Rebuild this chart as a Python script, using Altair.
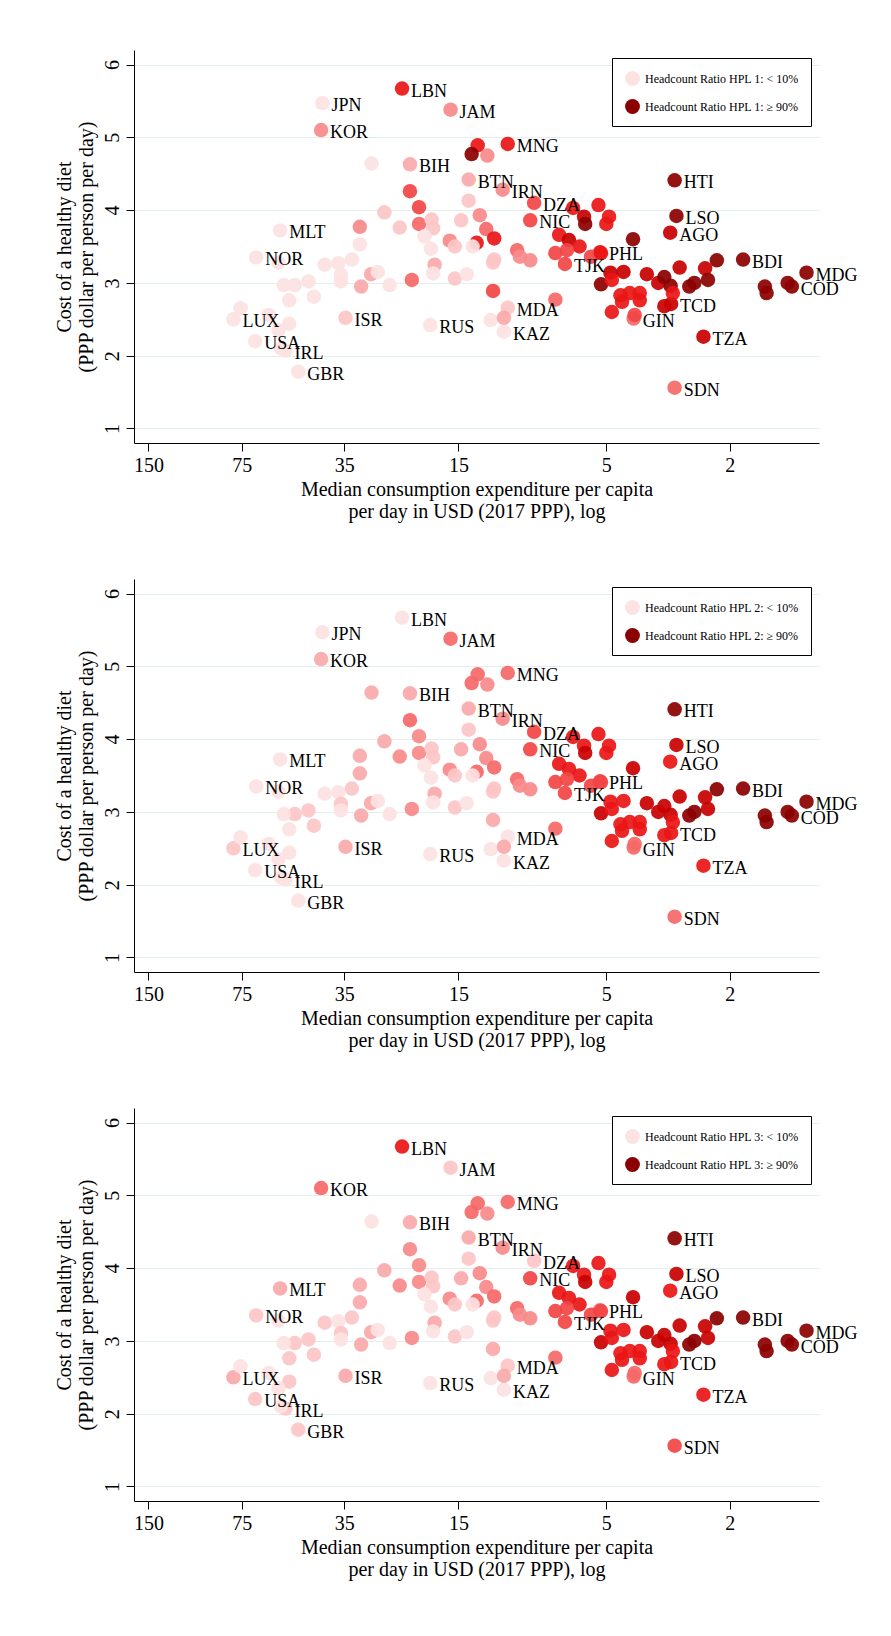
"""Cost of a healthy diet vs. median consumption expenditure, three HPL panels."""

import pandas as pd
import altair as alt

labelled = ["LBN", "JPN", "JAM", "KOR", "MNG", "BIH", "BTN", "IRN", "HTI", "DZA", "NIC", "LSO",
            "AGO", "MLT", "NOR", "PHL", "TJK", "BDI", "MDG", "COD", "TCD", "MDA", "GIN", "ISR",
            "LUX", "RUS", "KAZ", "USA", "TZA", "IRL", "GBR", "SDN"]

expenditure = [22.8, 41.2, 15.9, 41.6, 10.4, 21.5, 13.9, 10.8, 3.01, 8.55, 8.8, 2.97,
               3.11, 56.4, 67.4, 5.24, 6.8, 1.81, 1.13, 1.26, 3.09, 10.4, 4.08, 34.7,
               79.8, 18.5, 10.7, 67.9, 2.43, 54.2, 49.3, 3.01,
               28.6, 13.0, 13.6, 12.1, 21.5, 20.1, 26.0, 31.2, 23.2, 20.1, 18.3, 18.1,
               14.7, 13.9, 12.8, 12.2, 13.1, 11.5, 16.0, 15.4, 19.3, 18.4, 13.5, 31.2,
               33.1, 40.5, 36.6, 35.9, 35.9, 28.7, 27.3, 25.0, 21.2, 17.9, 18.1, 15.4,
               14.1, 11.6, 11.5, 30.9, 45.7, 50.6, 54.9, 52.7, 43.9, 57.1, 11.6, 9.7,
               9.5, 8.8, 75.7, 61.4, 52.7, 57.1, 56.0, 11.8, 10.7, 7.3, 6.4, 5.9,
               5.85, 5.3, 4.9, 5.0, 4.1, 7.1, 6.6, 6.1, 7.3, 6.7, 5.6, 5.2,
               4.85, 4.4, 3.7, 5.2, 4.8, 4.5, 4.2, 3.9, 4.45, 3.9, 4.8, 4.05,
               3.4, 3.25, 3.1, 2.9, 3.05, 3.25, 2.4, 2.35, 2.6, 2.7, 2.2, 1.54,
               1.52, 1.3]

cost = [5.67, 5.47, 5.38, 5.10, 4.91, 4.63, 4.42, 4.28, 4.41, 4.10, 3.86, 3.92,
        3.69, 3.72, 3.35, 3.42, 3.26, 3.32, 3.14, 2.95, 2.71, 2.66, 2.51, 2.52,
        2.50, 2.42, 2.33, 2.20, 2.26, 2.07, 1.78, 1.56,
        4.64, 4.89, 4.77, 4.75, 4.26, 4.04, 3.97, 3.77, 3.76, 3.81, 3.87, 3.75,
        3.86, 4.13, 3.93, 3.74, 3.55, 3.61, 3.58, 3.50, 3.64, 3.47, 3.50, 3.53,
        3.32, 3.25, 3.27, 3.11, 3.02, 3.12, 3.15, 2.97, 3.04, 3.25, 3.13, 3.06,
        3.12, 3.28, 3.32, 2.95, 3.02, 2.97, 2.97, 2.76, 2.81, 3.28, 2.89, 3.45,
        3.36, 3.31, 2.65, 2.56, 2.44, 2.35, 2.10, 2.49, 2.52, 2.77, 4.03, 3.91,
        3.81, 4.07, 3.91, 3.81, 3.60, 3.66, 3.59, 3.50, 3.41, 3.45, 3.36, 3.41,
        3.14, 3.15, 3.12, 2.98, 3.04, 2.83, 2.86, 2.86, 2.74, 2.76, 2.60, 2.56,
        3.00, 3.08, 2.96, 3.21, 2.86, 2.68, 3.20, 3.04, 3.00, 2.95, 3.31, 2.95,
        2.86, 3.00]

codes = labelled + [""] * (len(expenditure) - len(labelled))

# headcount ratio class (1 = < 10% ... 9 = >= 90%), one list per poverty line; 0 = missing
ratio_hpl1 = [7, 1, 4, 4, 7, 3, 3, 4, 9, 6, 6, 9, 8, 1, 1, 7, 6, 9, 9, 9, 8, 2, 5, 2,
              1, 1, 1, 1, 8, 1, 1, 5,
              1, 7, 9, 4, 6, 6, 2, 4, 2, 5, 2, 2, 2, 2, 4, 5, 7, 7, 4, 2, 1, 1, 1, 1,
              1, 1, 1, 1, 1, 3, 1, 1, 5, 3, 1, 2, 1, 2, 2, 3, 1, 1, 1, 1, 1, 1, 6, 5,
              4, 4, 1, 1, 1, 1, 1, 1, 3, 5, 7, 8, 9, 7, 7, 7, 9, 7, 8, 7, 6, 6, 6, 7,
              8, 8, 8, 9, 7, 7, 7, 7, 7, 7, 7, 6, 8, 9, 9, 8, 7, 8, 8, 9, 9, 9, 9, 9,
              9, 9]
ratio_hpl2 = [1, 1, 5, 3, 5, 3, 3, 4, 9, 6, 6, 8, 7, 1, 1, 6, 6, 9, 9, 9, 7, 1, 5, 3,
              2, 1, 1, 1, 7, 1, 1, 5,
              3, 5, 5, 4, 5, 4, 3, 3, 4, 4, 2, 2, 3, 2, 4, 4, 5, 5, 4, 2, 1, 1, 1, 3,
              2, 1, 1, 2, 1, 3, 1, 1, 4, 3, 1, 2, 1, 2, 2, 3, 2, 2, 1, 1, 2, 1, 3, 5,
              4, 4, 1, 1, 1, 1, 1, 1, 3, 5, 7, 7, 8, 7, 7, 7, 8, 7, 7, 7, 6, 6, 6, 6,
              7, 7, 8, 8, 7, 7, 7, 7, 7, 7, 7, 5, 8, 8, 8, 8, 7, 7, 8, 8, 9, 9, 9, 9,
              9, 9]
ratio_hpl3 = [7, 0, 2, 5, 5, 3, 3, 4, 9, 2, 6, 8, 7, 3, 2, 5, 6, 9, 9, 9, 7, 2, 5, 3,
              3, 1, 1, 2, 7, 2, 2, 6,
              1, 5, 5, 4, 4, 4, 3, 3, 4, 4, 2, 2, 3, 2, 4, 4, 5, 5, 4, 2, 1, 1, 1, 3,
              2, 2, 1, 2, 1, 3, 1, 1, 4, 3, 1, 2, 1, 2, 2, 3, 2, 2, 1, 2, 2, 1, 3, 5,
              4, 4, 1, 1, 2, 1, 1, 1, 3, 5, 7, 7, 8, 7, 7, 7, 8, 7, 7, 7, 6, 6, 6, 6,
              7, 7, 8, 8, 7, 7, 7, 7, 7, 7, 7, 5, 8, 8, 8, 8, 7, 7, 8, 8, 9, 9, 9, 9,
              9, 9]

x_ticks = [150, 75, 35, 15, 5, 2]
y_ticks = [1, 2, 3, 4, 5, 6]
reds = ["#fde2e2", "#fcc6c6", "#faa9a9", "#f88a8a", "#f66868", "#f24444",
        "#ea1515", "#c80000", "#8b0000"]

FONT = "Liberation Serif"


def panel(ratio, n):
    df = pd.DataFrame({"code": codes, "exp": expenditure, "cost": cost, "level": ratio})
    df = df[df["level"] > 0]
    x = alt.X("exp:Q", scale=alt.Scale(type="log", domain=[1.03, 167], reverse=True, nice=False),
              axis=alt.Axis(values=x_ticks, grid=False, labelFontSize=20, titleFontSize=20,
                            labelFont=FONT, titleFont=FONT, tickSize=8, labelColor="black",
                            titleColor="black", titleFontWeight="normal", domainColor="black",
                            tickColor="black", labelPadding=4, titlePadding=4),
              title=["Median consumption expenditure per capita",
                     "per day in USD (2017 PPP), log"])
    y = alt.Y("cost:Q", scale=alt.Scale(domain=[0.8, 6.2], nice=False),
              axis=alt.Axis(values=y_ticks, format="d", grid=True, gridColor="#e3eef0",
                            labelAngle=-90, labelAlign="center", labelBaseline="bottom",
                            labelFontSize=20, titleFontSize=20, labelFont=FONT, titleFont=FONT,
                            tickSize=8, labelColor="black", titleColor="black",
                            titleFontWeight="normal", domainColor="black", tickColor="black",
                            labelPadding=4, titlePadding=6),
              title=["Cost of a healthy diet", "(PPP dollar per person per day)"])
    legend = alt.Legend(title=None, values=[1, 9], orient="top-right", strokeColor="black",
                        padding=12, labelFont=FONT, labelFontSize=12, symbolSize=220,
                        symbolOpacity=1, fillColor="white", offset=8, rowPadding=12,
                        labelExpr=f"datum.value == 1 ? 'Headcount Ratio HPL {n}: < 10%' : "
                                  f"'Headcount Ratio HPL {n}: \u2265 90%'")
    base = alt.Chart(df)
    dots = base.mark_circle(size=210, opacity=0.92).encode(
        x=x, y=y,
        color=alt.Color("level:O", scale=alt.Scale(domain=list(range(1, 10)), range=reds),
                        legend=legend))
    labels = base.transform_filter("datum.code != ''").mark_text(
        align="left", dx=9, dy=3, font=FONT, fontSize=18, color="black").encode(
        x="exp:Q", y="cost:Q", text="code:N")
    return (dots + labels).properties(width=685, height=393)


chart = alt.vconcat(panel(ratio_hpl1, 1), panel(ratio_hpl2, 2), panel(ratio_hpl3, 3),
                    spacing=58).resolve_scale(color="independent").configure_view(
    stroke=None).properties(padding={"left": 46, "top": 42, "right": 5, "bottom": 5})

chart.save("out.html", embed_options={"renderer": "svg", "actions": False})
